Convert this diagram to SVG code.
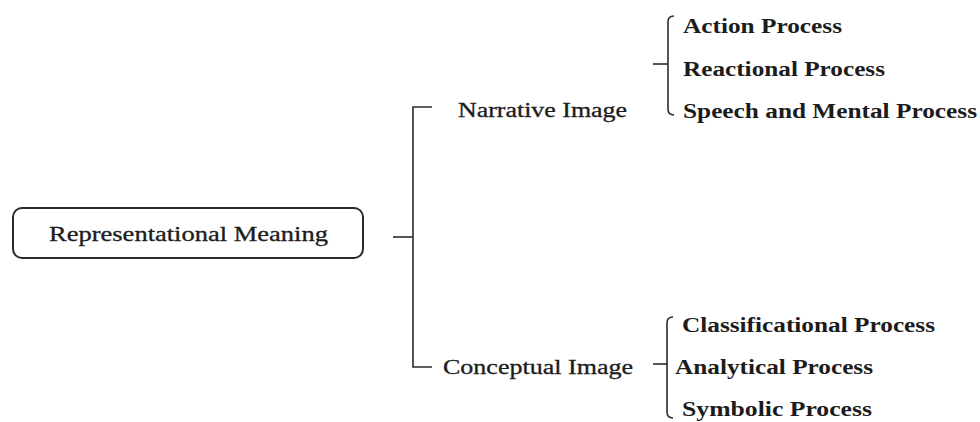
<svg xmlns="http://www.w3.org/2000/svg" width="980" height="422" viewBox="0 0 980 422">
  <style>
    .lbl { font-family: "Liberation Serif", "Times New Roman", serif; font-size: 20px; fill: #1c1c1c; }
    .reg { stroke: #1c1c1c; stroke-width: 0.3; }
    .bold { font-weight: bold; }
    .line { fill: none; stroke: #2b2b2b; stroke-width: 1.6; }
    .box { fill: #ffffff; stroke: #2b2b2b; stroke-width: 2; }
  </style>
  <rect width="980" height="422" fill="#ffffff"/>

  <!-- connectors: brackets joining each level -->
  <g id="connectors">
    <path class="line" d="M432,107 H413 V367 H432"/>
    <path class="line" d="M393,237 H413"/>
    <path class="line" d="M674,16 Q668,16 668,22 V109 Q668,115 674,115"/>
    <path class="line" d="M653,64 H668"/>
    <path class="line" d="M673,317 Q667,317 667,323 V412 Q667,418 673,418"/>
    <path class="line" d="M653,364 H667"/>
  </g>

  <g id="representational-meaning">
    <rect class="box" x="13" y="208" width="350" height="50" rx="9"/>
    <text class="lbl reg" x="49" y="241" textLength="279" lengthAdjust="spacingAndGlyphs">Representational Meaning</text>
  </g>

  <g id="narrative-image">
    <text class="lbl reg" x="458" y="117" textLength="169" lengthAdjust="spacingAndGlyphs">Narrative Image</text>
  </g>

  <g id="conceptual-image">
    <text class="lbl reg" x="443" y="374" textLength="190" lengthAdjust="spacingAndGlyphs">Conceptual Image</text>
  </g>

  <g id="action-process">
    <text class="lbl bold" x="683" y="33" textLength="159" lengthAdjust="spacingAndGlyphs">Action Process</text>
  </g>
  <g id="reactional-process">
    <text class="lbl bold" x="683" y="76" textLength="202" lengthAdjust="spacingAndGlyphs">Reactional Process</text>
  </g>
  <g id="speech-mental-process">
    <text class="lbl bold" x="683" y="118" textLength="294" lengthAdjust="spacingAndGlyphs">Speech and Mental Process</text>
  </g>

  <g id="classificational-process">
    <text class="lbl bold" x="682" y="332" textLength="253" lengthAdjust="spacingAndGlyphs">Classificational Process</text>
  </g>
  <g id="analytical-process">
    <text class="lbl bold" x="675" y="374" textLength="198" lengthAdjust="spacingAndGlyphs">Analytical Process</text>
  </g>
  <g id="symbolic-process">
    <text class="lbl bold" x="682" y="416" textLength="190" lengthAdjust="spacingAndGlyphs">Symbolic Process</text>
  </g>
</svg>
